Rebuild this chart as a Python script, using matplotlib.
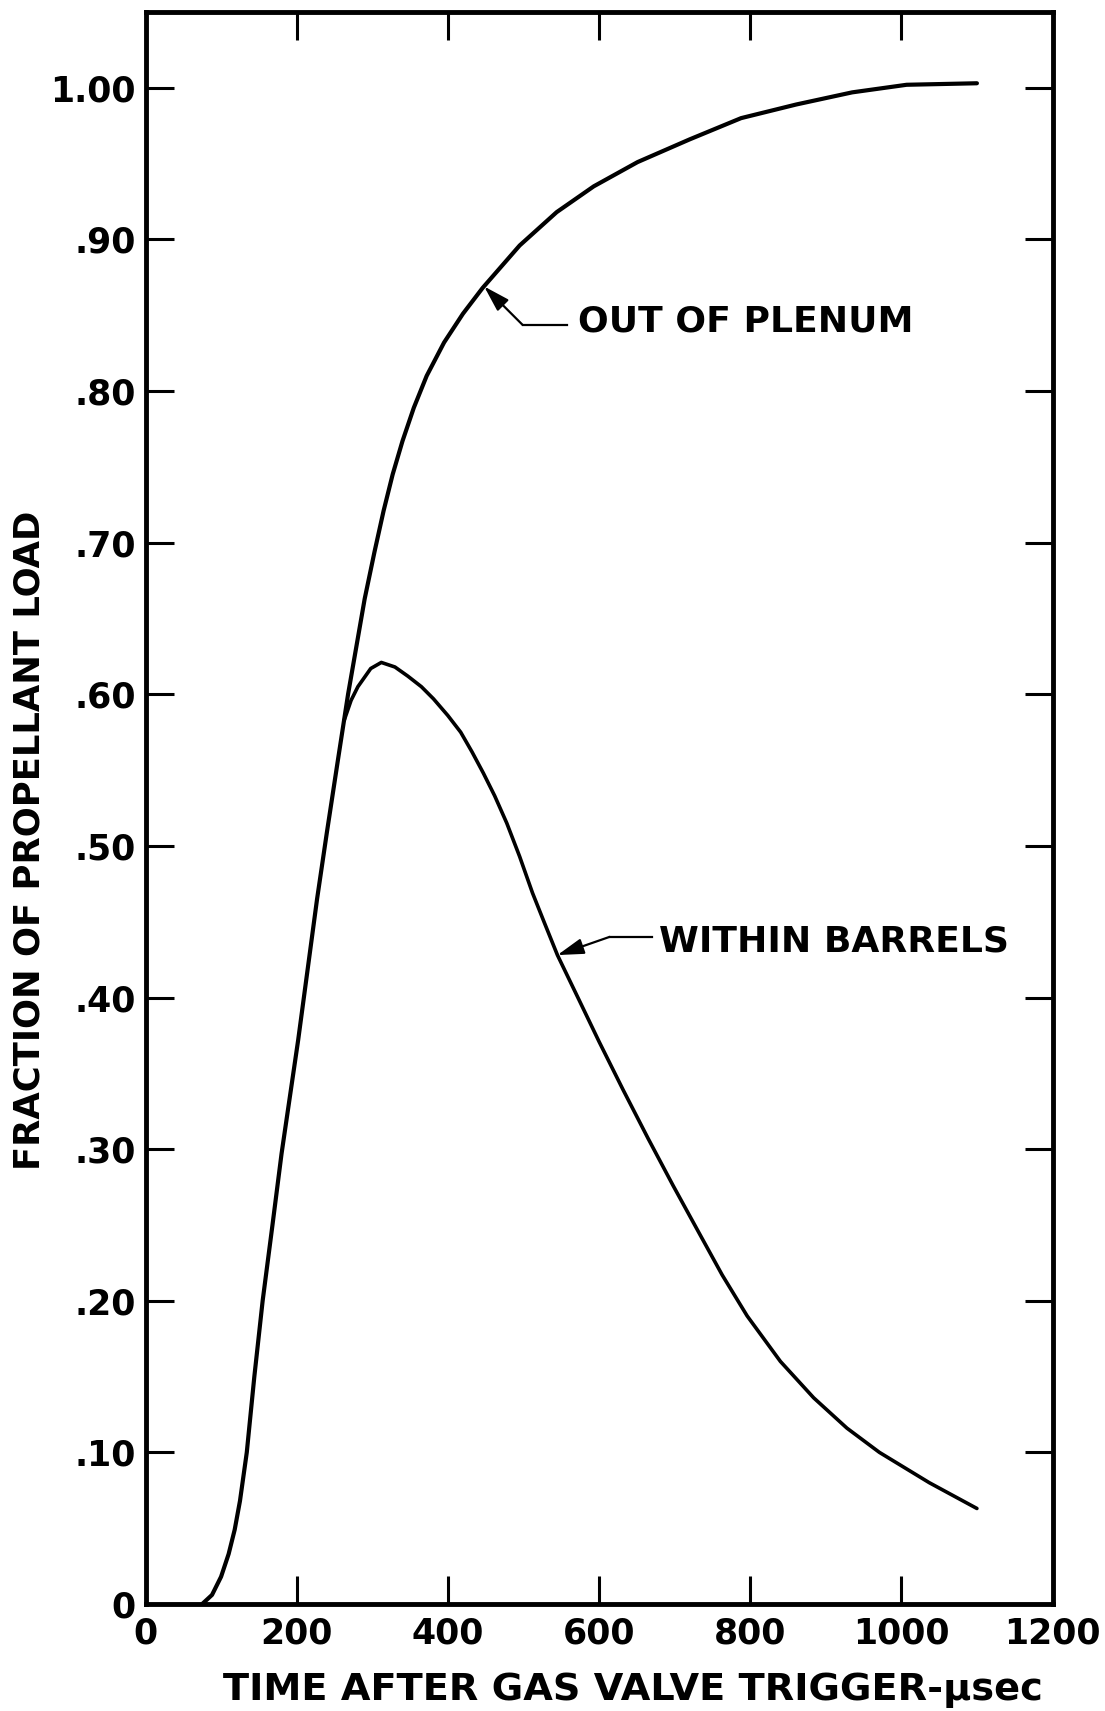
import numpy as np
import matplotlib
matplotlib.use("Agg")
import matplotlib.pyplot as plt

# values
plenum_t = [75, 88, 100, 110, 118, 125, 134, 144, 155, 168, 180, 202, 227, 240,
            255, 268, 290, 303, 315, 327, 340, 355, 372, 395, 420, 446, 495,
            544, 593, 651, 720, 788, 861, 935, 1007, 1100]
plenum_frac = [0.0, 0.006, 0.018, 0.033, 0.049, 0.068, 0.10, 0.15, 0.20, 0.25,
               0.297, 0.372, 0.465, 0.509, 0.558, 0.600, 0.663, 0.694, 0.721,
               0.745, 0.767, 0.789, 0.810, 0.832, 0.851, 0.868, 0.896, 0.918,
               0.935, 0.951, 0.966, 0.980, 0.989, 0.997, 1.002, 1.003]

barrels_t = [263, 272, 281, 298, 312, 330, 347, 365, 381, 400, 417, 432, 447,
             462, 478, 495, 512, 528, 545, 574, 600, 632, 665, 698, 731, 763,
             796, 840, 884, 928, 971, 1037, 1100]
barrels_frac = [0.583, 0.596, 0.605, 0.617, 0.621, 0.618, 0.612, 0.605, 0.597,
                0.586, 0.575, 0.562, 0.548, 0.533, 0.515, 0.493, 0.469, 0.449,
                0.428, 0.398, 0.371, 0.339, 0.307, 0.276, 0.246, 0.217, 0.190,
                0.160, 0.136, 0.116, 0.100, 0.080, 0.063]

x_ticks = [0, 200, 400, 600, 800, 1000, 1200]
x_tick_labels = ["0", "200", "400", "600", "800", "1000", "1200"]
y_ticks = [0.0, 0.1, 0.2, 0.3, 0.4, 0.5, 0.6, 0.7, 0.8, 0.9, 1.0]
y_tick_labels = ["0", ".10", ".20", ".30", ".40", ".50", ".60", ".70", ".80",
                 ".90", "1.00"]

# annotation anchors (tip on curve, elbow, end of leader, text start)
plenum_note = {"text": "OUT OF PLENUM", "tip": (448, 0.869), "elbow": (499, 0.8436),
               "end": (558, 0.8436), "label": (572, 0.846)}
barrels_note = {"text": "WITHIN BARRELS", "tip": (545, 0.428), "elbow": (614, 0.440),
                "end": (670, 0.440), "label": (680, 0.437)}

W, H = 1105, 1711
fig = plt.figure(figsize=(W / 100, H / 100), dpi=100)
ax = fig.add_axes([145.5 / W, (H - 1604) / H, 907 / W, 1592 / H])

ax.plot(plenum_t, plenum_frac, color="black", lw=3.0, solid_capstyle="round",
        solid_joinstyle="round")
ax.plot(barrels_t, barrels_frac, color="black", lw=2.6, solid_capstyle="round",
        solid_joinstyle="round")

ax.set_xlim(0, 1200)
ax.set_ylim(0, 1.05)
ax.set_xticks(x_ticks)
ax.set_xticklabels(x_tick_labels, fontweight="bold")
ax.set_yticks(y_ticks)
ax.set_yticklabels(y_tick_labels, fontweight="bold")

ax.tick_params(direction="in", top=True, right=True, length=20, width=2.2,
               labelsize=25, color="black")
ax.tick_params(axis="x", pad=9)
ax.tick_params(axis="y", pad=7)
for sp in ax.spines.values():
    sp.set_linewidth(3.5)
    sp.set_color("black")

# curve labels with bent leader and arrow head
for note in (plenum_note, barrels_note):
    ax.plot([note["end"][0], note["elbow"][0]], [note["end"][1], note["elbow"][1]],
            color="black", lw=1.6)
    ax.annotate("", xy=note["tip"], xytext=note["elbow"],
                arrowprops=dict(arrowstyle="-|>,head_length=1.0,head_width=0.3",
                                mutation_scale=16, color="black", lw=1.6,
                                shrinkA=0, shrinkB=0))
    ax.text(note["label"][0], note["label"][1], note["text"], fontsize=26,
            fontweight="bold", ha="left", va="center")

fig.text(632.5 / W, 1 - 1690 / H, "TIME AFTER GAS VALVE TRIGGER-\u03bcsec",
         fontsize=27.5, fontweight="bold", ha="center", va="center")
fig.text(30 / W, 1 - 840 / H, "FRACTION OF PROPELLANT LOAD", fontsize=25.5,
         fontweight="bold", rotation=90, ha="center", va="center")

fig.savefig("out.png", dpi=100, facecolor="white")
